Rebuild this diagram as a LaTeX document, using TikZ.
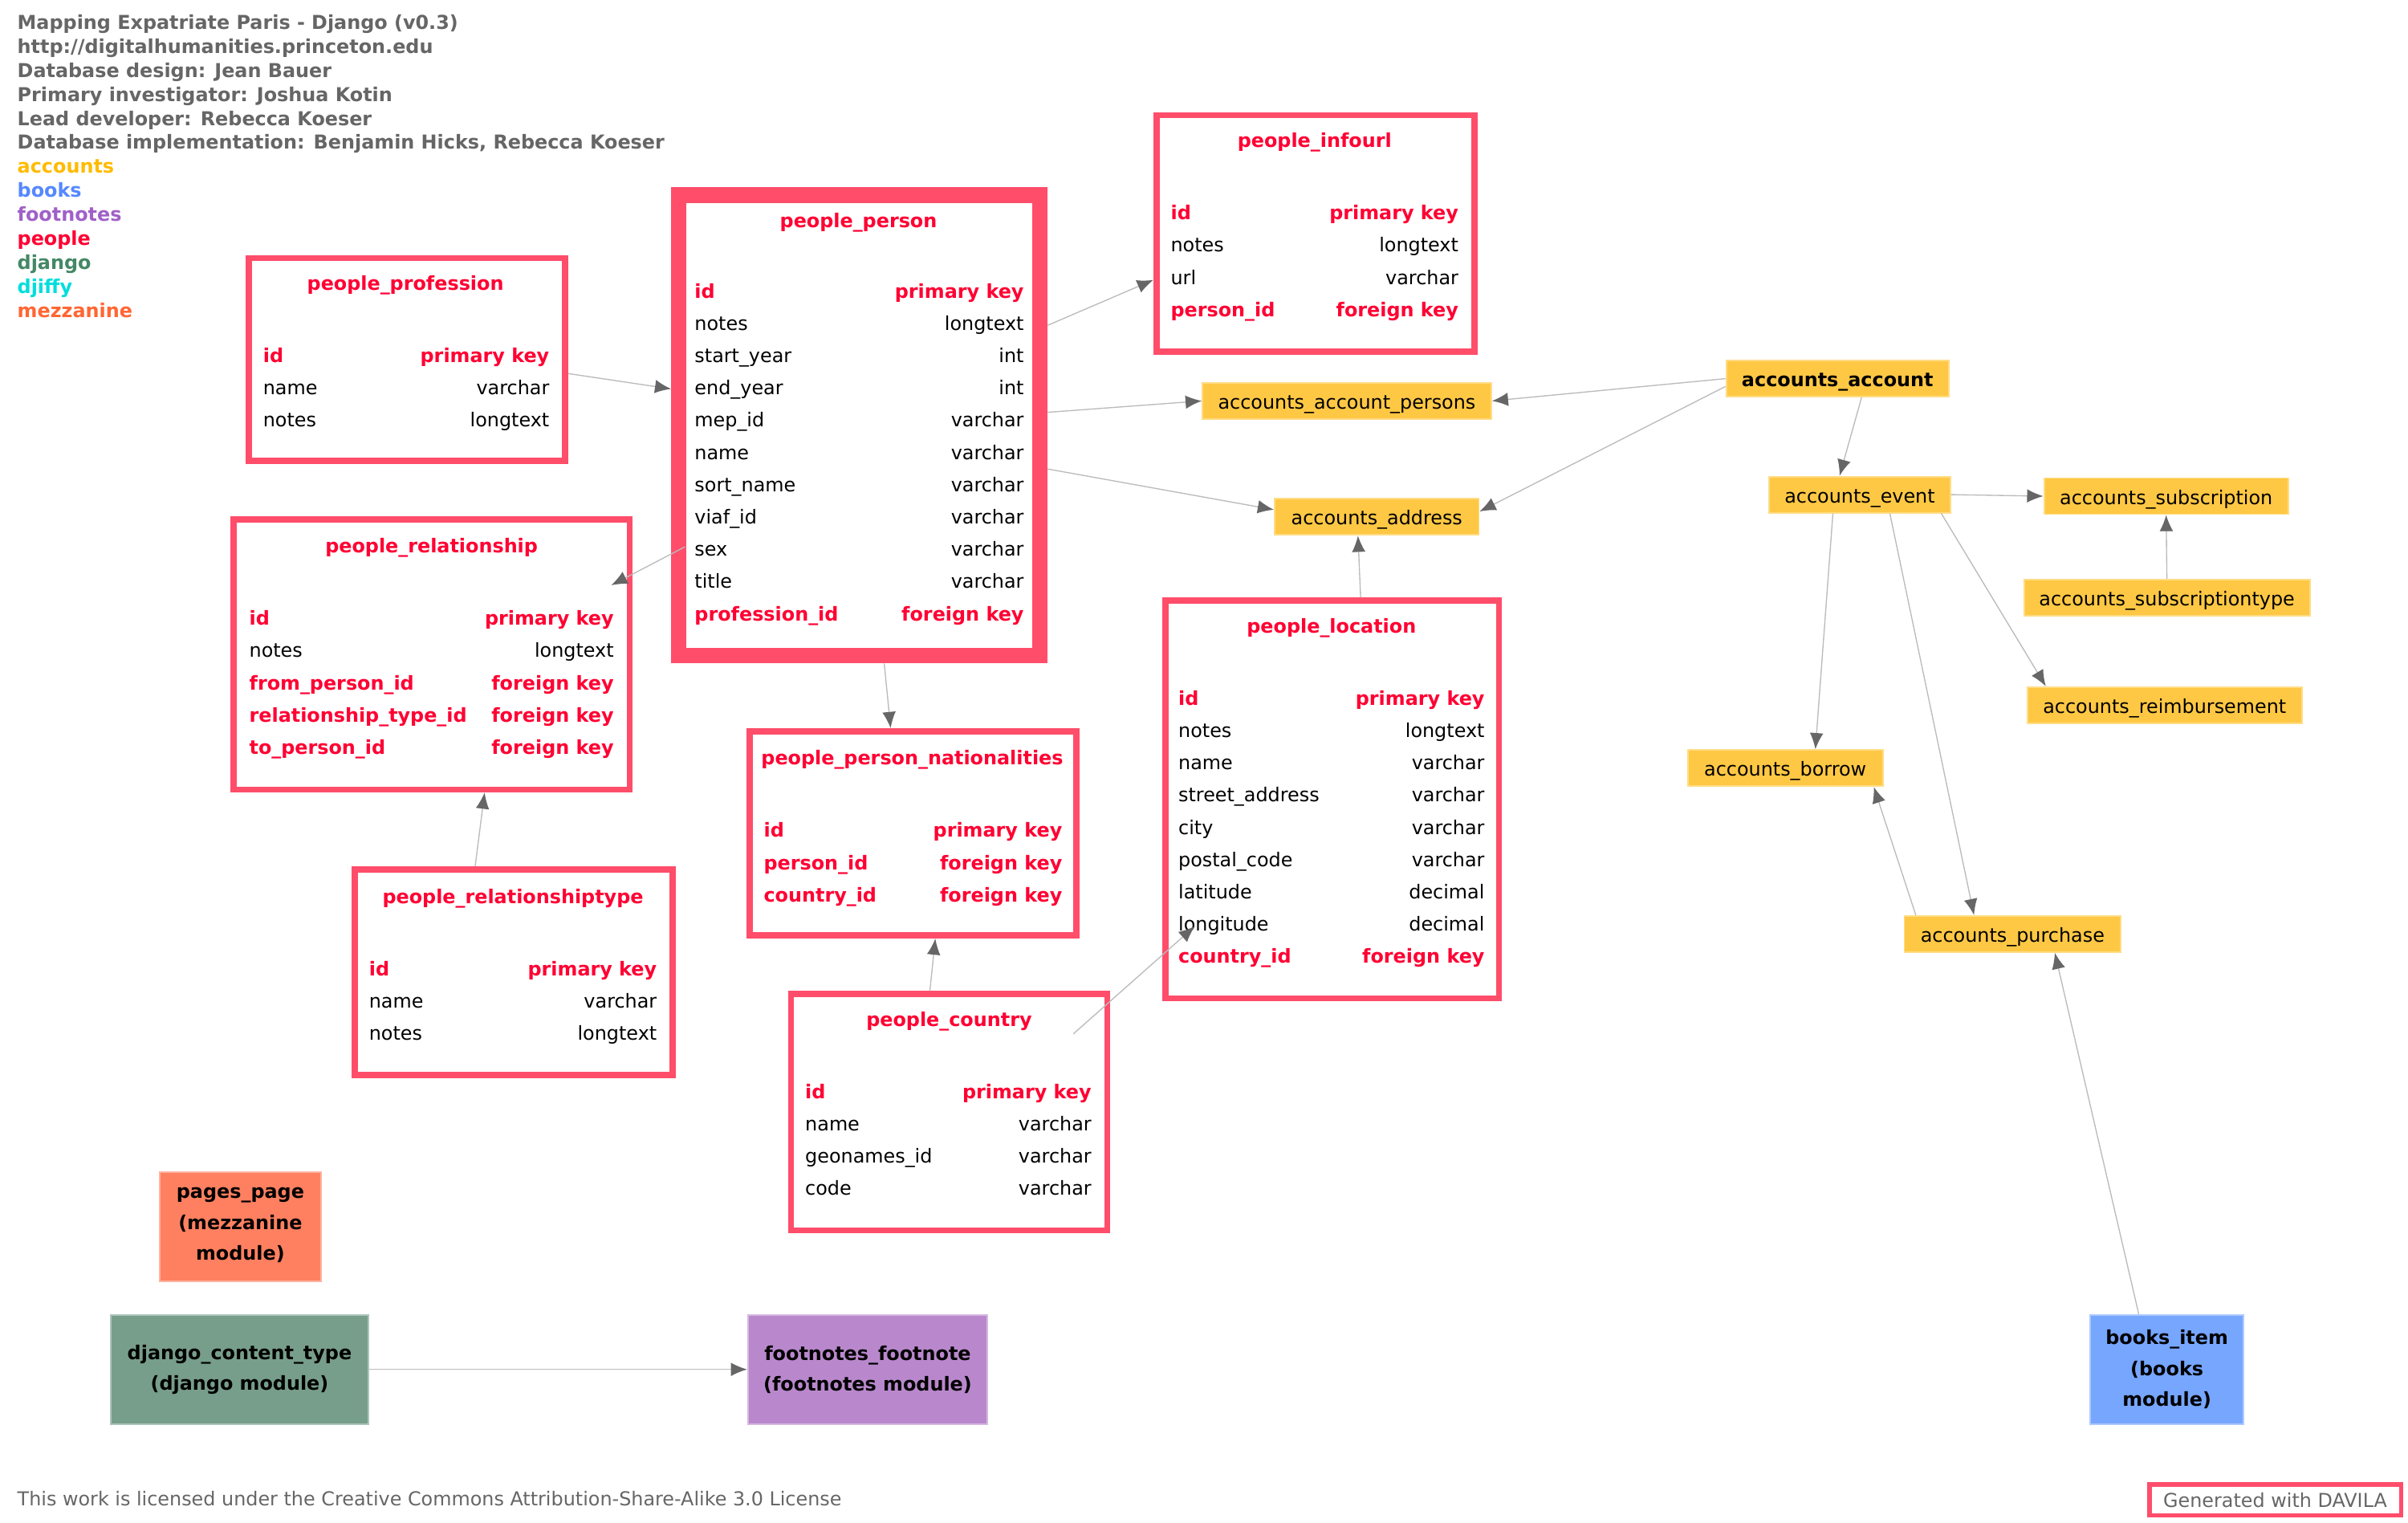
\documentclass[tikz,border=0pt]{standalone}
\usepackage{fontspec}
\setmainfont{DejaVu Sans}
\usepackage{tikz}
\usetikzlibrary{arrows.meta}
\definecolor{peopleborder}{HTML}{FF4D6A}
\definecolor{peopletext}{HTML}{FF0033}
\definecolor{accfill}{HTML}{FFC844}
\definecolor{accedge}{HTML}{FFDC85}
\definecolor{hdrgray}{HTML}{666666}
\definecolor{linegray}{HTML}{BBBBBB}
\definecolor{tipgray}{HTML}{666666}
\definecolor{accounts}{HTML}{FFBB00}
\definecolor{books}{HTML}{5588FF}
\definecolor{footnotes}{HTML}{A060C8}
\colorlet{people}{peopletext}
\definecolor{django}{HTML}{448866}
\definecolor{djiffy}{HTML}{00DDDD}
\definecolor{mezzanine}{HTML}{FF6633}
\definecolor{pagesfill}{HTML}{FF8060}
\definecolor{djangofill}{HTML}{779E8A}
\definecolor{footnotesfill}{HTML}{B988CC}
\definecolor{booksfill}{HTML}{77A6FF}
\tikzstyle{tbl}=[draw=peopleborder,line width=0.08cm,fill=white,inner sep=0pt]

\begin{document}
\begin{tikzpicture}[
    x=0.02cm, y=-0.02cm,
    node font=\fontsize{7.1}{8.9}\selectfont,
    txt/.style={
        inner sep=0pt,
        text height=6pt,
        text depth=1.4pt
    },
    head/.style={txt, font=\bfseries, text=peopletext},
    keyrow/.style={head},
    plainrow/.style={txt, text=black},
    acc/.style={
        fill=accfill,
        draw=accedge,
        line width=0.02cm,
        inner sep=0pt,
        text height=7pt,
        text depth=1pt,
        minimum height=0.47cm
    },
    module/.style={
        fill=#1,
        draw=#1!60!white,
        line width=0.02cm,
        inner sep=0pt,
        minimum height=1.42cm,
        align=center,
        font=\fontsize{7.1}{11.4}\selectfont\bfseries
    },
    fk/.style={draw=linegray, line width=0.4pt, -{Latex[length=6pt,width=5pt,color=tipgray]}}
    ]
    \fill[white] (0,0) rectangle (1568,991);
    \useasboundingbox (0,0) rectangle (1568,991);

    % credits and legend
    \foreach \credit [count=\i from 0] in {Mapping Expatriate Paris - Django (v0.3), http://digitalhumanities.princeton.edu, Database design: Jean Bauer, Primary investigator: Joshua Kotin, Lead developer: Rebecca Koeser, {Database implementation: Benjamin Hicks, Rebecca Koeser}}
        \node[txt, font=\bfseries, text=hdrgray, anchor=west] (credit\i) at (11,15+15.63*\i) {\credit};
    \foreach \mod [count=\i from 6] in {accounts, books, footnotes, people, django, djiffy, mezzanine}
        \node[txt, font=\bfseries, text=\mod, anchor=west] (legend-\mod) at (11,15+15.63*\i) {\mod};

    % people tables
    \node[tbl, minimum width=4.12cm, minimum height=2.64cm] (profession) at (265,234) {};
    \node[head] (profession-title) at (264,185) {people\_profession};
    \foreach \fname/\ftype/\fstyle [count=\i from 0] in {id/primary key/keyrow, name/varchar/plainrow, notes/longtext/plainrow}{
        \node[\fstyle, anchor=west] (profession-f\i) at (171,232+21*\i) {\fname};
        \node[\fstyle, anchor=east] (profession-t\i) at (358,232+21*\i) {\ftype};
    }

    \node[tbl, line width=0.2cm, minimum width=4.7cm, minimum height=6cm] (person) at (559.5,277) {};
    \node[head] (person-title) at (559,144) {people\_person};
    \foreach \fname/\ftype/\fstyle [count=\i from 0] in {id/primary key/keyrow, notes/longtext/plainrow, start\_year/int/plainrow, end\_year/int/plainrow, mep\_id/varchar/plainrow, name/varchar/plainrow, sort\_name/varchar/plainrow, viaf\_id/varchar/plainrow, sex/varchar/plainrow, title/varchar/plainrow, profession\_id/foreign key/keyrow}{
        \node[\fstyle, anchor=west] (person-f\i) at (452,190+21*\i) {\fname};
        \node[\fstyle, anchor=east] (person-t\i) at (667,190+21*\i) {\ftype};
    }

    \node[tbl, minimum width=4.14cm, minimum height=3.08cm] (infourl) at (856.5,152) {};
    \node[head] (infourl-title) at (856,92) {people\_infourl};
    \foreach \fname/\ftype/\fstyle [count=\i from 0] in {id/primary key/keyrow, notes/longtext/plainrow, url/varchar/plainrow, person\_id/foreign key/keyrow}{
        \node[\fstyle, anchor=west] (infourl-f\i) at (762,139+21*\i) {\fname};
        \node[\fstyle, anchor=east] (infourl-t\i) at (950,139+21*\i) {\ftype};
    }

    \node[tbl, minimum width=5.16cm, minimum height=3.52cm] (relationship) at (281,426) {};
    \node[head] (relationship-title) at (281,356) {people\_relationship};
    \foreach \fname/\ftype/\fstyle [count=\i from 0] in {id/primary key/keyrow, notes/longtext/plainrow, from\_person\_id/foreign key/keyrow, relationship\_type\_id/foreign key/keyrow, to\_person\_id/foreign key/keyrow}{
        \node[\fstyle, anchor=west] (relationship-f\i) at (162,403+21*\i) {\fname};
        \node[\fstyle, anchor=east] (relationship-t\i) at (400,403+21*\i) {\ftype};
    }

    \node[tbl, minimum width=4.14cm, minimum height=2.68cm] (reltype) at (334.5,633) {};
    \node[head] (reltype-title) at (334,584) {people\_relationshiptype};
    \foreach \fname/\ftype/\fstyle [count=\i from 0] in {id/primary key/keyrow, name/varchar/plainrow, notes/longtext/plainrow}{
        \node[\fstyle, anchor=west] (reltype-f\i) at (240,631+21*\i) {\fname};
        \node[\fstyle, anchor=east] (reltype-t\i) at (428,631+21*\i) {\ftype};
    }

    \node[tbl, minimum width=4.26cm, minimum height=2.66cm] (nationalities) at (594.5,542.5) {};
    \node[head] (nationalities-title) at (594,494) {people\_person\_nationalities};
    \foreach \fname/\ftype/\fstyle [count=\i from 0] in {id/primary key/keyrow, person\_id/foreign key/keyrow, country\_id/foreign key/keyrow}{
        \node[\fstyle, anchor=west] (nationalities-f\i) at (497,541+21*\i) {\fname};
        \node[\fstyle, anchor=east] (nationalities-t\i) at (692,541+21*\i) {\ftype};
    }

    \node[tbl, minimum width=4.12cm, minimum height=3.08cm] (country) at (618,724) {};
    \node[head] (country-title) at (618,664) {people\_country};
    \foreach \fname/\ftype/\fstyle [count=\i from 0] in {id/primary key/keyrow, name/varchar/plainrow, geonames\_id/varchar/plainrow, code/varchar/plainrow}{
        \node[\fstyle, anchor=west] (country-f\i) at (524,711+21*\i) {\fname};
        \node[\fstyle, anchor=east] (country-t\i) at (711,711+21*\i) {\ftype};
    }

    \node[tbl, minimum width=4.34cm, minimum height=5.18cm] (location) at (867.5,520.5) {};
    \node[head] (location-title) at (867,408) {people\_location};
    \foreach \fname/\ftype/\fstyle [count=\i from 0] in {id/primary key/keyrow, notes/longtext/plainrow, name/varchar/plainrow, street\_address/varchar/plainrow, city/varchar/plainrow, postal\_code/varchar/plainrow, latitude/decimal/plainrow, longitude/decimal/plainrow, country\_id/foreign key/keyrow}{
        \node[\fstyle, anchor=west] (location-f\i) at (767,455+21*\i) {\fname};
        \node[\fstyle, anchor=east] (location-t\i) at (967,455+21*\i) {\ftype};
    }

    % accounts tables
    \node[acc, minimum width=3.76cm] (persons) at (877,261) {accounts\_account\_persons};
    \node[acc, minimum width=2.66cm] (address) at (896.5,336.5) {accounts\_address};
    \node[acc, minimum width=2.9cm, font=\bfseries] (account) at (1196.5,246.5) {accounts\_account};
    \node[acc, minimum width=2.36cm] (event) at (1211,322) {accounts\_event};
    \node[acc, minimum width=3.18cm] (subscription) at (1410.5,323) {accounts\_subscription};
    \node[acc, minimum width=3.72cm] (subscriptiontype) at (1411,389) {accounts\_subscriptiontype};
    \node[acc, minimum width=3.58cm] (reimbursement) at (1409.5,459) {accounts\_reimbursement};
    \node[acc, minimum width=2.54cm] (borrow) at (1162.5,500) {accounts\_borrow};
    \node[acc, minimum width=2.82cm] (purchase) at (1310.5,608) {accounts\_purchase};

    % other modules
    \node[module=pagesfill, minimum width=2.1cm, text depth=2pt] (pages) at (156.5,798.5) {pages\_page\\(mezzanine\\module)};
    \node[module=djangofill, minimum width=3.36cm] (contenttype) at (156,891.5) {django\_content\_type\\(django module)};
    \node[module=footnotesfill, minimum width=3.12cm] (footnote) at (565,891.5) {footnotes\_footnote\\(footnotes module)};
    \node[module=booksfill, minimum width=2cm] (item) at (1411,891.5) {books\_item\\(books\\module)};

    % footer
    \node[txt, text=hdrgray, anchor=west] (licence) at (11,976) {This work is licensed under the Creative Commons Attribution-Share-Alike 3.0 License};
    \node[draw=peopleborder, line width=0.06cm, text=hdrgray, inner sep=0pt, minimum width=3.28cm, minimum height=0.4cm] (davila) at (1481.5,976.5) {Generated with DAVILA};

    % foreign keys
    \draw[fk] (profession.-5) -- (person.169);
    \draw[fk] (person.28) -- (infourl.196);
    \draw[fk] (person.4) -- (persons.west);
    \draw[fk] (account.west) -- (persons.east);
    \draw[fk] (person.-13) -- (address.176);
    \draw[fk] (account.184) -- (address.3);
    \draw[fk] (location.82) -- (address.-135);
    \draw[fk] ([xshift=0.18cm,yshift=-1.58cm]person.west) -- ([xshift=-0.28cm,yshift=-0.9cm]relationship.north east);
    \draw[fk] (reltype.110) -- (relationship.-69);
    \draw[fk] (person.-84) -- (nationalities.102);
    \draw[fk] (country.99) -- (nationalities.-78);
    \draw[fk] ([xshift=-0.48cm,yshift=-0.56cm]country.north east) -- ([xshift=0.42cm,yshift=0.98cm]location.south west);
    \draw[fk] (account.-38) -- (event.137);
    \draw[fk] (event.east) -- (subscription.west);
    \draw[fk] (subscriptiontype.north) -- (subscription.south);
    \draw[fk] (event.-13) -- (reimbursement.171);
    \draw[fk] (event.-145) -- (borrow.32);
    \draw[fk] (event.-32) -- (purchase.154);
    \draw[fk] (purchase.169) -- (borrow.-12);
    \draw[fk] (item.117) -- (purchase.-24);
    \draw[fk] (contenttype.east) -- (footnote.west);
\end{tikzpicture}
\end{document}
